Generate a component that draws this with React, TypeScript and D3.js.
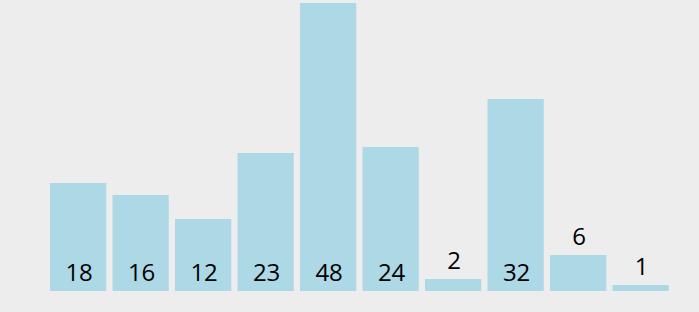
import React from "react";
import * as d3 from "d3";

const categories = ["a", "b", "c", "d", "e", "f", "g", "h", "i", "j"];
const values = [18, 16, 12, 23, 48, 24, 2, 32, 6, 1];

const W = 699;
const H = 312;

export default function App() {
  const x = d3
    .scaleBand<string>()
    .domain(categories)
    .range([50, 675])
    .paddingInner(0.1)
    .paddingOuter(0.05)
    .align(0);
  const y = d3.scaleLinear().domain([0, 48]).range([291, 3]);

  return (
    <div style={{ position: "fixed", left: 0, top: 0, width: W, height: H, background: "#ededed" }}>
      <svg width={W} height={H} style={{ display: "block" }}>
        {values.map((v, i) => {
          const c = categories[i];
          const bx = x(c) as number;
          const top = y(v);
          const bottom = y(0);
          const small = bottom - top < 50;
          const ty = small ? top - 10 : bottom - 10.5;
          return (
            <g key={c}>
              <rect x={bx} y={top} width={x.bandwidth()} height={bottom - top} fill="lightblue" />
              <text
                x={bx + x.bandwidth() / 2 + 1}
                y={ty}
                textAnchor="middle"
                fontFamily="'Open Sans', sans-serif"
                fontSize={24}
                fill="#000"
              >
                {v}
              </text>
            </g>
          );
        })}
      </svg>
    </div>
  );
}
